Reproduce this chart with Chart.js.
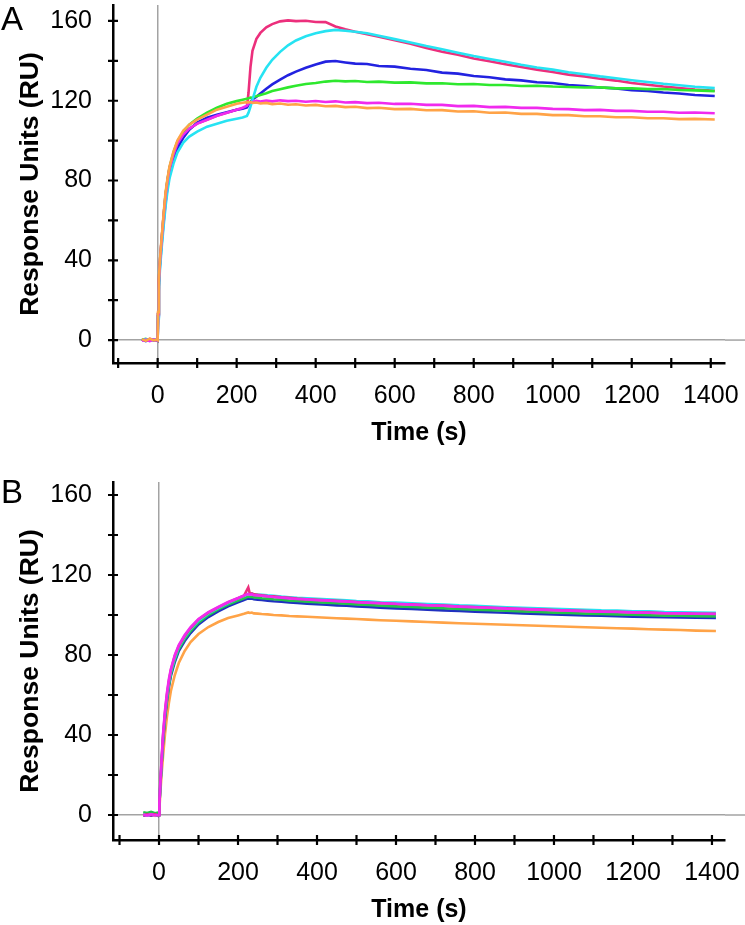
<!DOCTYPE html>
<html lang="en">
<head>
<meta charset="UTF-8">
<title>SPR sensorgrams A / B</title>
<script src="https://cdn.jsdelivr.net/npm/chart.js@4"></script>
<style>
    body {
        margin: 0;
        background: #fff;
        width: 745px;
        height: 925px;
        position: relative;
        overflow: hidden;
        font-family: 'Liberation Sans', Arial, sans-serif;
    }
    .panel { position: absolute; left: 0; width: 745px; height: 448px; }
    #panelA { top: 0; }
    #panelB { top: 477px; }
    .tag { position: absolute; left: 1px; font-size: 33px; line-height: 33px; color: #000; }
</style>
</head>
<body>

<div class="panel" id="panelA"><canvas id="chartA" width="745" height="448"></canvas></div>
<div class="panel" id="panelB"><canvas id="chartB" width="745" height="448"></canvas></div>
<div class="tag" style="top:2px">A</div>
<div class="tag" style="top:475px">B</div>

<script>
// ---- panel A ----
const timeA = [-40,-30,-20,-10,-2, 0,1,3,6,10, 15,20,25,30,40, 50,65,80,100,125, 150,175,200,215,226,
    230,235,240,250,260, 275,290,310,330,350, 375,400,425,450,475, 500,530,560,600,640,
    680,720,760,800,840, 880,920,960,1000,1040, 1080,1120,1160,1200,1240, 1280,1320,1360,1410];

const pinkA = [0.4,-0.3,0.6,0.1,-0.4, 0,13,29,40,50, 62,72.5,80,86,93, 98.5,103,106,108.5,110.5, 112.5,114,115.5,116.2,117,
    124,137,145,151,154, 156.8,158.4,159.8,160.3,159.9, 160.1,159.5,159.4,157.2,155.8, 154.6,153.4,152.1,150.3,148.6,
    146.4,144.6,143.1,141.2,139.8, 138.3,136.9,135.6,134.4,133.1, 132.2,131,130.1,128.9,128, 127.1,126.4,125.6,125];
const cyanA = [-0.2,0.5,-0.4,0.3,0, 0,11,25,36,46, 57,67,75,81,88.5, 94,99,102,104.5,107, 108.5,110,111,111.6,112.4,
    114,117,120.5,127,131.5, 136.5,140.5,144.5,147.8,150.2, 152.3,153.8,154.9,155.5,155.1, 154.6,153.8,152.6,150.9,149.2,
    147.4,145.8,144.1,142.4,140.9, 139.5,138,136.7,135.6,134.3, 133.3,132.2,131.3,130.3,129.4, 128.5,127.8,127,126.3];
const blueA = [0.3,-0.5,0.2,-0.2,0.4, 0,12,27,38,48, 59,69,77,83,90.5, 96,101.5,105.5,109,111.5, 113,114.2,115.5,116,116.6,
    118,119.4,120.6,122,123.6, 126,128.2,130.6,132.8,134.6, 136.5,138.2,139.6,139.9,139.2, 138.6,138.4,137.4,137.1,136,
    135.4,134.1,133.6,132.4,131.8, 130.7,130.2,129.3,128.9,127.9, 127.4,126.6,126.2,125.3,124.9, 124.1,123.6,122.9,122.4];
const greenA = [0.2,0.6,-0.3,0.4,-0.1, 0,13,29,40,50, 62,73,80.5,86.5,94, 99.5,104.5,108,111,114, 116.5,118.5,119.8,120.5,121,
    121.2,121.6,121.5,122.3,122.9, 123.8,124.9,125.8,126.7,127.5, 128.4,128.9,129.6,130,129.7, 129.9,129.4,129.6,129.1,129.2,
    128.7,128.8,128.3,128.4,127.9, 127.9,127.4,127.5,127.1,126.9, 126.6,126.7,126.2,126.2,125.8, 125.9,125.4,125.2,124.8];
const magentaA = [-0.3,0.2,-0.5,0.3,-0.2, 0,13,29,40,50, 62,72.5,80,86,93, 98.5,103,106,108.5,110.5, 112.5,114,115.5,116.5,117.5,
    118.6,119.2,119.4,119.9,119.6, 120.1,119.7,120.2,119.8,120, 119.5,119.9,119.4,119.7,119.1, 119.3,118.8,119,118.4,118.5,
    117.9,117.9,117.3,117.4,116.8, 116.9,116.4,116.4,115.9,115.8, 115.3,115.4,114.9,114.9,114.5, 114.5,114,114.1,113.7];
const orangeA = [0.5,-0.4,0.7,-0.2,0.3, 0,14,30,41,51, 63,74,81,87,94.5, 100,105,108,110.5,113, 115.5,117,118.5,119,119.3,
    119.2,119.4,118.9,119.1,118.6, 118.9,118.3,118.6,118,118.2, 117.6,117.9,117.2,117.4,116.8, 117,116.3,116.5,115.8,115.9,
    115.2,115.3,114.6,114.7,114, 114.1,113.4,113.4,112.8,112.8, 112.2,112.2,111.7,111.7,111.2, 111.2,110.8,110.9,110.6];

// ---- panel B ----
const timeB = [-40,-30,-20,-10,-2, 0,1,3,6,10, 15,20,25,30,40, 50,65,80,100,125, 150,175,200,215,226,
    230,235,240,250,260, 275,290,310,330,350, 375,400,425,450,475, 500,530,560,600,640,
    680,720,760,800,840, 880,920,960,1000,1040, 1080,1120,1160,1200,1240, 1280,1320,1360,1410];

const magentaB = [0.2,-0.3,0.4,-0.2,0.1, 0,6,15,26,40, 52,61,68,73,80, 85,90,94,98,101.5, 104,106.5,108.5,109.8,110.5,
    110.2,110.4,109.9,109.8,109.6, 109.3,109.0,108.7,108.3,108.0, 107.8,107.4,107.3,106.9,106.8, 106.4,106.2,105.9,105.6,105.2,
    104.9,104.6,104.2,103.9,103.6, 103.2,103.0,102.7,102.4,102.2, 101.9,101.7,101.5,101.3,101.1, 100.9,100.8,100.6,100.5];
const pinkB = [-0.2,0.3,-0.1,0.4,-0.3, 0,5.5,14.5,25.5,39, 51,60,67,72.5,79.5, 84.5,89.5,93.5,97.8,101.2, 103.8,106.3,108.4,109.6,113.8,
    110.6,110.8,110.3,110.1,109.8, 109.5,109.3,108.8,108.6,108.2, 107.9,107.6,107.3,107.1,106.8, 106.5,106.1,106.0,105.5,105.3,
    104.9,104.7,104.2,104.0,103.6, 103.3,103.0,102.8,102.5,102.2, 102.0,101.7,101.6,101.3,101.2, 100.9,100.9,100.6,100.6];
const cyanB = [0.1,-0.2,0.3,0.0,-0.3, 0,5,14,24.5,38, 50,59,66,71.5,78.5, 84,89,93,97.2,100.8, 103.5,106,108.2,109.5,110.6,
    110.3,110.7,110.4,110.2,110.1, 109.8,109.6,109.2,108.9,108.6, 108.4,108.1,107.8,107.6,107.3, 107.0,106.8,106.4,106.2,105.8,
    105.5,105.2,104.8,104.6,104.2, 103.9,103.6,103.4,103.1,102.8, 102.6,102.3,102.2,101.9,101.8, 101.5,101.4,101.2,101.1];
const greenB = [1.4,1.0,1.6,0.9,1.2, 0,5,13.5,24,37, 49,58,65,70.5,77.5, 83,88,92,96.2,100, 102.8,105.2,107.2,108.4,109.2,
    109.0,109.1,108.8,108.7,108.4, 108.2,107.9,107.6,107.2,107.0, 106.7,106.4,106.1,105.9,105.6, 105.3,105.0,104.7,104.3,104.0,
    103.7,103.4,103.0,102.7,102.4, 102.1,101.8,101.5,101.2,101.0, 100.7,100.5,100.3,100.1,99.9, 99.7,99.6,99.4,99.3];
const blueB = [-0.4,0.1,-0.3,0.2,-0.5, 0,5,13,23.5,36, 48,57,64,69.5,76.5, 82,87,91,95.3,99, 101.8,104.3,106.3,107.5,108.3,
    108.1,108.2,107.9,107.7,107.5, 107.2,106.9,106.6,106.3,106.0, 105.7,105.4,105.1,104.8,104.6, 104.3,104.0,103.7,103.3,103.0,
    102.7,102.3,102.0,101.7,101.4, 101.1,100.8,100.5,100.3,100.0, 99.8,99.6,99.4,99.2,99.0, 98.9,98.8,98.6,98.5];
const orangeB = [0.3,-0.2,0.5,-0.4,0.2, 0,3,10,19,29, 40,49,56,62,70, 76,82,86.5,90.5,94, 96.5,98.5,99.8,100.6,101.3,
    101.0,101.2,100.8,100.7,100.5, 100.3,100.0,99.8,99.5,99.3, 99.1,98.9,98.6,98.4,98.2, 98.0,97.7,97.4,97.1,96.8,
    96.5,96.2,95.9,95.6,95.4, 95.1,94.9,94.6,94.4,94.1, 93.9,93.6,93.4,93.2,92.9, 92.7,92.5,92.2,92.0];

const yTickStep = 20;   // labels every 40
const xTickStep = 100;  // labels every 200

Chart.defaults.font.family = "'Liberation Sans', Arial, sans-serif";
Chart.defaults.color = '#000';

// tick marks crossing the axis line, and the grey zero line running on to the edge
const crossTicks = {
    id: 'crossTicks',
    beforeDatasetsDraw(chart) {
        const {ctx, chartArea, scales: {y}} = chart;
        const py = y.getPixelForValue(0);
        ctx.save();
        ctx.strokeStyle = '#a3a3a3';
        ctx.lineWidth = 1.5;
        ctx.beginPath();
        ctx.moveTo(chartArea.right, py);
        ctx.lineTo(chart.width, py);
        ctx.stroke();
        ctx.restore();
    },
    afterDraw(chart) {
        const {ctx, chartArea, scales: {x, y}} = chart;
        ctx.save();
        ctx.strokeStyle = '#000';
        ctx.lineWidth = 2.2;
        ctx.beginPath();
        y.ticks.forEach(t => {
            const py = y.getPixelForValue(t.value);
            ctx.moveTo(chartArea.left - 5, py);
            ctx.lineTo(chartArea.left + 5, py);
        });
        x.ticks.forEach(t => {
            const px = x.getPixelForValue(t.value);
            ctx.moveTo(px, chartArea.bottom - 5);
            ctx.lineTo(px, chartArea.bottom + 5);
        });
        ctx.stroke();
        ctx.restore();
    }
};

function zeroGrid(ctx) {
    return ctx.tick && ctx.tick.value === 0 ? '#a3a3a3' : 'rgba(0,0,0,0)';
}

function makeChart(id, time, series, yMin, yMax, xMin, xMax) {
    new Chart(document.getElementById(id), {
        type: 'line',
        data: {
            datasets: series.map(s => ({
                label: s.label,
                data: time.map((t, i) => ({x: t, y: s.values[i]})),
                borderColor: s.color,
                borderWidth: 2.6,
                pointRadius: 0,
                tension: 0,
                fill: false
            }))
        },
        options: {
            responsive: false,
            animation: false,
            events: [],
            layout: { padding: { top: 5, right: 20, left: 0, bottom: 0 } },
            plugins: { legend: { display: false }, tooltip: { enabled: false } },
            scales: {
                x: {
                    type: 'linear',
                    min: xMin, max: xMax,
                    afterFit(s) { s.height = 85; s.paddingLeft = 0; s.paddingRight = 0; },
                    border: { color: '#000', width: 2.5 },
                    grid: { drawTicks: false, color: zeroGrid, lineWidth: 1.5 },
                    ticks: {
                        stepSize: xTickStep, includeBounds: false, autoSkip: false, maxRotation: 0,
                        padding: 18, font: { size: 25 },
                        callback: v => (v >= 0 && v % 200 === 0) ? String(v) : ''
                    },
                    title: { display: true, text: 'Time (s)', font: { size: 25, weight: 'bold' }, padding: { top: 0, bottom: 0 } }
                },
                y: {
                    min: yMin, max: yMax,
                    afterFit(s) { s.width = 113; s.paddingTop = 0; s.paddingBottom = 0; },
                    border: { color: '#000', width: 2.5 },
                    grid: { drawTicks: false, color: zeroGrid, lineWidth: 1.5 },
                    ticks: {
                        stepSize: yTickStep, includeBounds: false, autoSkip: false,
                        padding: 21, font: { size: 25 },
                        callback: v => (v % 40 === 0) ? String(v) : ''
                    },
                    title: { display: true, text: 'Response Units (RU)', font: { size: 26.5, weight: 'bold' }, padding: { top: 15, bottom: 0 } }
                }
            }
        },
        plugins: [crossTicks]
    });
}

makeChart('chartA', timeA, [
    { label: 'orange', color: '#FFA347', values: orangeA },
    { label: 'magenta', color: '#F02AEE', values: magentaA },
    { label: 'cyan', color: '#26E3F2', values: cyanA },
    { label: 'green', color: '#2EE82E', values: greenA },
    { label: 'blue', color: '#2222E0', values: blueA },
    { label: 'pink', color: '#EC2F7C', values: pinkA }
], -11.5, 168, -113, 1436);

makeChart('chartB', timeB, [
    { label: 'magenta', color: '#F02AEE', values: magentaB },
    { label: 'pink', color: '#EC2F7C', values: pinkB },
    { label: 'cyan', color: '#26E3F2', values: cyanB },
    { label: 'green', color: '#25C24A', values: greenB },
    { label: 'blue', color: '#2030C0', values: blueB },
    { label: 'orange', color: '#FFA347', values: orangeB }
], -12.5, 166.5, -116.5, 1433);
</script>
</body>
</html>
